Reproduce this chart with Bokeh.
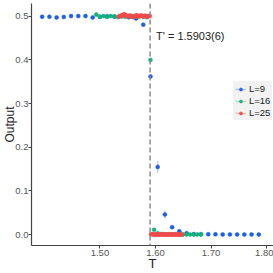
from bokeh.plotting import figure
from bokeh.models import (Span, Label, Legend, LegendItem, FixedTicker,
                          NumeralTickFormatter, Range1d, ColumnDataSource)
from bokeh.embed import file_html
from bokeh.resources import INLINE

# ---------------- data ----------------
Tc = 1.5903
Tc_label = "T' = 1.5903(6)"

T_L9 = [1.396, 1.409, 1.422, 1.435, 1.448, 1.461, 1.474, 1.487, 1.500, 1.513,
        1.526, 1.539, 1.552, 1.565, 1.578, 1.591, 1.604, 1.617, 1.630, 1.643,
        1.656, 1.669, 1.682, 1.695, 1.708, 1.721, 1.734, 1.747, 1.760, 1.773,
        1.786]
Y_L9 = [0.499, 0.499, 0.4975, 0.4985, 0.5005, 0.5005, 0.5005, 0.4975, 0.499, 0.500,
        0.499, 0.500, 0.498, 0.495, 0.481, 0.362, 0.155, 0.046, 0.017, 0.0075,
        0.003, 0.0012, 0.0009, 0.0006, 0.0005, 0.0004, 0.0003, 0.0003, 0.0002, 0.0002,
        0.0001]
E_L9 = [0.001, 0.001, 0.001, 0.001, 0.001, 0.001, 0.001, 0.001, 0.001, 0.001,
        0.001, 0.001, 0.001, 0.001, 0.002, 0.004, 0.014, 0.009, 0.004, 0.002,
        0.001, 0.001, 0.001, 0.001, 0.001, 0.001, 0.001, 0.001, 0.001, 0.001,
        0.001]

T_L16 = [1.4935, 1.5000, 1.5065, 1.5130, 1.5195, 1.5260, 1.5325, 1.5390, 1.5455, 1.5520,
         1.5585, 1.5650, 1.5715, 1.5780, 1.5845, 1.5910, 1.5975, 1.6040, 1.6105, 1.6170,
         1.6235, 1.6300, 1.6365, 1.6430, 1.6495, 1.6560, 1.6625, 1.6690, 1.6755, 1.6820]
Y_L16 = [0.504, 0.499, 0.5005, 0.4985, 0.5005, 0.500, 0.4985, 0.5005, 0.499, 0.5005,
         0.500, 0.499, 0.5005, 0.4995, 0.498, 0.400, 0.011, 0.003, 0.0015, 0.001,
         0.0008, 0.0007, 0.0006, 0.0005, 0.0004, 0.0004, 0.0003, 0.0003, 0.0002, 0.0002]
E_L16 = [0.001, 0.001, 0.001, 0.001, 0.001, 0.001, 0.001, 0.001, 0.001, 0.001,
         0.001, 0.001, 0.001, 0.001, 0.001, 0.003, 0.002, 0.001, 0.001, 0.001,
         0.001, 0.001, 0.001, 0.001, 0.001, 0.001, 0.001, 0.001, 0.001, 0.001]

T_L25 = [1.534, 1.536, 1.538, 1.540, 1.542, 1.544, 1.546, 1.548, 1.550, 1.552,
         1.554, 1.556, 1.558, 1.560, 1.562, 1.564, 1.566, 1.568, 1.570, 1.572,
         1.574, 1.576, 1.578, 1.580, 1.582, 1.584, 1.586, 1.588, 1.590, 1.592,
         1.594, 1.596, 1.598, 1.600, 1.602, 1.604, 1.606, 1.608, 1.610, 1.612,
         1.614, 1.616, 1.618, 1.620, 1.622, 1.624, 1.626, 1.628, 1.630, 1.632,
         1.634, 1.636, 1.638, 1.640, 1.642, 1.644, 1.646, 1.648]
Y_L25 = [0.499, 0.5005, 0.502, 0.501, 0.5035, 0.5045, 0.503, 0.5015, 0.4995, 0.501,
         0.502, 0.5005, 0.4995, 0.498, 0.4995, 0.501, 0.5025, 0.5015, 0.4995, 0.5005,
         0.502, 0.501, 0.4995, 0.5005, 0.5015, 0.500, 0.4995, 0.501, 0.5005, 0.0008,
         0.0005, 0.0003, 0.0004, 0.0002, 0.0003, 0.0002, 0.0001, 0.0002, 0.0001, 0.0001,
         0.0002, 0.0001, 0.0001, 0.0001, 0.0001, 0.0001, 0.0001, 0.0001, 0.0001, 0.0001,
         0.0001, 0.0001, 0.0001, 0.0001, 0.0001, 0.0001, 0.0001, 0.0001]
E_L25 = [0.001, 0.001, 0.001, 0.001, 0.001, 0.001, 0.001, 0.001, 0.001, 0.001,
         0.001, 0.001, 0.001, 0.001, 0.001, 0.001, 0.001, 0.001, 0.001, 0.001,
         0.001, 0.001, 0.001, 0.001, 0.001, 0.001, 0.001, 0.001, 0.002, 0.001,
         0.001, 0.001, 0.001, 0.001, 0.001, 0.001, 0.001, 0.001, 0.001, 0.001,
         0.001, 0.001, 0.001, 0.001, 0.001, 0.001, 0.001, 0.001, 0.001, 0.001,
         0.001, 0.001, 0.001, 0.001, 0.001, 0.001, 0.001, 0.001]

series_names = ["L=9", "L=16", "L=25"]
series_colors = ["#1f5fe6", "#14b07c", "#f04a4a"]

x_ticks = [1.50, 1.60, 1.70, 1.80]
y_ticks = [0.0, 0.1, 0.2, 0.3, 0.4, 0.5]
x_lo, x_hi = 1.3768, 1.8125
y_lo, y_hi = -0.025, 0.5294

# ---------------- figure ----------------
FONT = "Liberation Sans"
p = figure(width=273, height=273, output_backend="svg", toolbar_location=None,
           x_range=Range1d(x_lo, x_hi), y_range=Range1d(y_lo, y_hi))
p.min_border_left = 29
p.min_border_right = 0
p.min_border_top = 3
p.min_border_bottom = 25
p.outline_line_color = None
p.xgrid.visible = False
p.ygrid.visible = False
p.background_fill_color = "white"

for ax in (p.xaxis[0], p.yaxis[0]):
    ax.axis_line_color = "#444444"
    ax.axis_line_width = 1.2
    ax.major_tick_line_color = "#444444"
    ax.major_tick_out = 3
    ax.major_tick_in = 0
    ax.minor_tick_line_color = None
    ax.major_label_text_font = FONT
    ax.major_label_text_font_size = "9.5px"
    ax.major_label_text_color = "#555555"
    ax.axis_label_text_font = FONT
    ax.axis_label_text_font_style = "normal"
    ax.axis_label_text_color = "#222222"

p.xaxis[0].major_label_standoff = 1
p.xaxis[0].axis_label_standoff = -3
p.yaxis[0].major_label_standoff = 0
p.yaxis[0].axis_label_standoff = -5

p.xaxis[0].ticker = FixedTicker(ticks=x_ticks)
p.xaxis[0].formatter = NumeralTickFormatter(format="0.00")
p.xaxis[0].axis_label = "T"
p.xaxis[0].axis_label_text_font_size = "13px"
p.yaxis[0].ticker = FixedTicker(ticks=y_ticks)
p.yaxis[0].formatter = NumeralTickFormatter(format="0.0")
p.yaxis[0].axis_label = "Output"
p.yaxis[0].axis_label_text_font_size = "12px"

p.add_layout(Span(location=Tc, dimension="height", line_color="#8a8a8a",
                  line_width=1.5, line_dash="5 3"))

items = []
for name, col, T, Y, E in zip(series_names, series_colors,
                              [T_L9, T_L16, T_L25], [Y_L9, Y_L16, Y_L25],
                              [E_L9, E_L16, E_L25]):
    src = ColumnDataSource(dict(x=T, y=Y,
                                lo=[a - b for a, b in zip(Y, E)],
                                hi=[a + b for a, b in zip(Y, E)]))
    seg = p.segment(x0="x", y0="lo", x1="x", y1="hi", source=src,
                    line_color=col, line_alpha=0.3, line_width=1.5)
    sc = p.scatter(x="x", y="y", source=src, size=4, marker="circle",
                   fill_color=col, line_color=col, line_width=0.5)
    items.append(LegendItem(label=name, renderers=[seg, sc]))

p.add_layout(Label(x=Tc, y=0.455, x_offset=6, text=Tc_label,
                   text_font=FONT, text_font_size="11px", text_color="#222222",
                   text_baseline="middle"))

legend = Legend(items=items, location=(202, 125))
legend.background_fill_color = "#f2f2f2"
legend.background_fill_alpha = 1
legend.border_line_alpha = 0
legend.label_text_font = FONT
legend.label_text_font_size = "9.5px"
legend.label_text_color = "#222222"
legend.glyph_width = 11
legend.glyph_height = 8
legend.label_height = 8
legend.label_standoff = 3
legend.spacing = 1
legend.padding = 2
legend.margin = 0
p.add_layout(legend)

open("out.html", "w").write(file_html(p, INLINE))
